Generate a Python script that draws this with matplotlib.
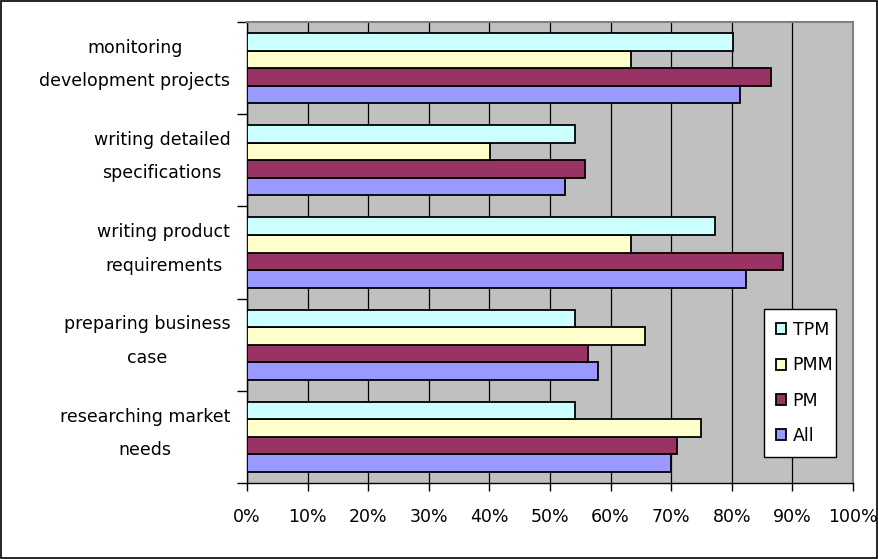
import matplotlib
matplotlib.use("Agg")
import matplotlib.pyplot as plt
from matplotlib.patches import Rectangle
from matplotlib.ticker import FuncFormatter, MultipleLocator
import numpy as np

categories = [
    "researching market\nneeds",
    "preparing business\ncase",
    "writing product\nrequirements",
    "writing detailed\nspecifications",
    "monitoring\ndevelopment projects",
]
series_names = ["All", "PM", "PMM", "TPM"]
all_vals = [70.0, 57.9, 82.4, 52.4, 81.3]
pm_vals = [70.9, 56.2, 88.5, 55.7, 86.5]
pmm_vals = [74.9, 65.7, 63.4, 40.1, 63.4]
tpm_vals = [54.2, 54.2, 77.2, 54.2, 80.2]
colors = ["#9999FF", "#993366", "#FFFFCC", "#CCFFFF"]

plt.rcParams['font.family'] = ['DejaVu Sans']
fs = 12.5
fig = plt.figure(figsize=(8.79, 5.59), dpi=100)
ax = fig.add_axes([247/879, 1-483/559, (853-247)/879, (483-22)/559])
ax.set_facecolor("#C0C0C0")

y = np.arange(len(categories))
h = 0.19
data = [all_vals, pm_vals, pmm_vals, tpm_vals]
for i, (name, vals, c) in enumerate(zip(series_names, data, colors)):
    ax.barh(y + (i - 1.5) * h, vals, height=h, color=c, edgecolor="black",
            linewidth=1.3, label=name, zorder=3)

ax.set_xlim(0, 100)
ax.set_ylim(-0.5, len(categories) - 0.5)
ax.xaxis.set_major_locator(MultipleLocator(10))
ax.xaxis.set_major_formatter(FuncFormatter(lambda v, p: f"{int(round(v))}%"))
ax.grid(axis="x", color="black", linewidth=0.9, zorder=1)
ax.set_axisbelow(True)

ax.set_yticks(np.arange(len(categories) + 1) - 0.5)
ax.set_yticklabels([])
ax.set_yticks(y + 0.04, minor=True)
ax.set_yticklabels(categories, minor=True, fontsize=fs, linespacing=2.1,
                   multialignment="center", va="center")
ax.tick_params(axis="y", which="minor", length=0, pad=12)
ax.tick_params(axis="y", which="major", length=7, width=1, direction="out")
ax.tick_params(axis="x", length=6, width=1, direction="out", labelsize=fs, pad=12)

for s in ["top", "right"]:
    ax.spines[s].set_color("#808080")
    ax.spines[s].set_linewidth(1.5)
for s in ["left", "bottom"]:
    ax.spines[s].set_color("black")
    ax.spines[s].set_linewidth(1)

handles, labels = ax.get_legend_handles_labels()
leg = ax.legend(handles[::-1], labels[::-1], loc="lower left",
                bbox_to_anchor=(0.853, 0.056, 0.119, 0.319), mode="expand",
                fancybox=False, framealpha=1, edgecolor="black", fontsize=fs,
                handlelength=0.6, handleheight=0.6, handletextpad=0.35,
                labelspacing=1.0, borderaxespad=0, borderpad=0.7)
leg.get_frame().set_linewidth(1)
leg.set_zorder(5)

fig.patches.append(Rectangle((0.001, 0.002), 0.997, 0.996, transform=fig.transFigure,
                             fill=False, edgecolor="black", linewidth=1.2))

fig.savefig("out.png", dpi=100)
